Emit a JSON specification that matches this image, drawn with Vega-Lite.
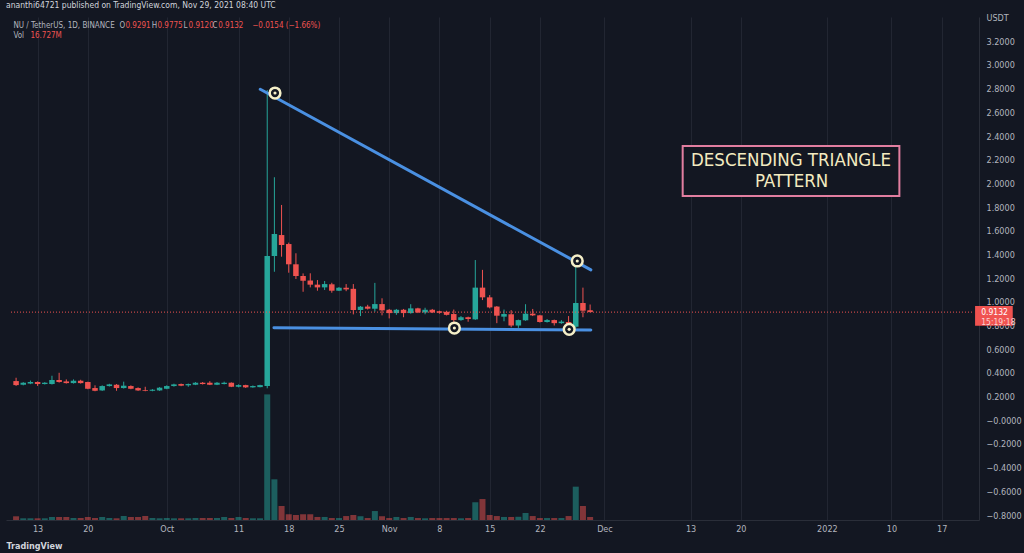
{
  "$schema": "https://vega.github.io/schema/vega-lite/v6.json",
  "width": 973,
  "height": 503,
  "autosize": "none",
  "padding": {"left": 6, "top": 17, "right": 45, "bottom": 33},
  "background": "#131722",
  "title": {
    "text": "ananthi64721 published on TradingView.com, Nov 29, 2021 08:40 UTC",
    "anchor": "start",
    "frame": "group",
    "fontSize": 8.5,
    "fontWeight": "normal",
    "color": "#d1d4dc",
    "offset": 4
  },
  "config": {
    "font": "Liberation Sans Narrow, Arial Narrow, DejaVu Sans Condensed, sans-serif",
    "view": {"stroke": null},
    "axisY": {
      "labelColor": "#b2b5be",
      "labelFontSize": 9,
      "labelPadding": 7,
      "labelFlush": false,
      "labelOverlap": false,
      "ticks": false,
      "domain": true,
      "domainColor": "#2a2e39",
      "grid": true,
      "gridColor": "#222632"
    }
  },
  "datasets": {
    "ohlc": [
      {"date":"2021-09-10","open":0.331,"high":0.359,"low":0.29,"close":0.297,"vol":20.6},
      {"date":"2021-09-11","open":0.300,"high":0.322,"low":0.295,"close":0.317,"vol":9.5},
      {"date":"2021-09-12","open":0.310,"high":0.335,"low":0.305,"close":0.323,"vol":9.5},
      {"date":"2021-09-13","open":0.323,"high":0.328,"low":0.290,"close":0.306,"vol":9.5},
      {"date":"2021-09-14","open":0.306,"high":0.322,"low":0.302,"close":0.317,"vol":9.5},
      {"date":"2021-09-15","open":0.306,"high":0.376,"low":0.302,"close":0.340,"vol":16.7},
      {"date":"2021-09-16","open":0.340,"high":0.401,"low":0.318,"close":0.323,"vol":16.7},
      {"date":"2021-09-17","open":0.328,"high":0.345,"low":0.310,"close":0.314,"vol":16.7},
      {"date":"2021-09-18","open":0.314,"high":0.345,"low":0.310,"close":0.334,"vol":11.2},
      {"date":"2021-09-19","open":0.334,"high":0.342,"low":0.310,"close":0.314,"vol":11.2},
      {"date":"2021-09-20","open":0.323,"high":0.326,"low":0.262,"close":0.266,"vol":16.7},
      {"date":"2021-09-21","open":0.272,"high":0.295,"low":0.245,"close":0.249,"vol":11.2},
      {"date":"2021-09-22","open":0.252,"high":0.295,"low":0.248,"close":0.289,"vol":16.7},
      {"date":"2021-09-23","open":0.289,"high":0.308,"low":0.285,"close":0.303,"vol":11.2},
      {"date":"2021-09-24","open":0.300,"high":0.306,"low":0.249,"close":0.272,"vol":9.5},
      {"date":"2021-09-25","open":0.272,"high":0.326,"low":0.268,"close":0.292,"vol":22.3},
      {"date":"2021-09-26","open":0.289,"high":0.295,"low":0.262,"close":0.266,"vol":16.7},
      {"date":"2021-09-27","open":0.272,"high":0.278,"low":0.248,"close":0.252,"vol":16.7},
      {"date":"2021-09-28","open":0.255,"high":0.283,"low":0.245,"close":0.249,"vol":22.3},
      {"date":"2021-09-29","open":0.249,"high":0.263,"low":0.245,"close":0.258,"vol":11.2},
      {"date":"2021-09-30","open":0.252,"high":0.280,"low":0.248,"close":0.275,"vol":9.5},
      {"date":"2021-10-01","open":0.266,"high":0.295,"low":0.262,"close":0.289,"vol":11.2},
      {"date":"2021-10-02","open":0.289,"high":0.309,"low":0.284,"close":0.303,"vol":9.5},
      {"date":"2021-10-03","open":0.306,"high":0.310,"low":0.288,"close":0.292,"vol":9.5},
      {"date":"2021-10-04","open":0.295,"high":0.310,"low":0.283,"close":0.306,"vol":9.5},
      {"date":"2021-10-05","open":0.300,"high":0.322,"low":0.297,"close":0.317,"vol":11.2},
      {"date":"2021-10-06","open":0.317,"high":0.323,"low":0.302,"close":0.306,"vol":11.2},
      {"date":"2021-10-07","open":0.317,"high":0.330,"low":0.297,"close":0.300,"vol":11.2},
      {"date":"2021-10-08","open":0.300,"high":0.323,"low":0.297,"close":0.317,"vol":11.2},
      {"date":"2021-10-09","open":0.306,"high":0.326,"low":0.303,"close":0.317,"vol":16.7},
      {"date":"2021-10-10","open":0.317,"high":0.320,"low":0.280,"close":0.283,"vol":11.2},
      {"date":"2021-10-11","open":0.283,"high":0.303,"low":0.278,"close":0.297,"vol":16.7},
      {"date":"2021-10-12","open":0.297,"high":0.300,"low":0.273,"close":0.278,"vol":11.2},
      {"date":"2021-10-13","open":0.278,"high":0.294,"low":0.275,"close":0.289,"vol":9.5},
      {"date":"2021-10-14","open":0.280,"high":0.300,"low":0.278,"close":0.297,"vol":9.5},
      {"date":"2021-10-15","open":0.289,"high":2.789,"low":0.270,"close":1.387,"vol":701},
      {"date":"2021-10-16","open":1.387,"high":2.052,"low":1.254,"close":1.573,"vol":227},
      {"date":"2021-10-17","open":1.564,"high":1.818,"low":1.381,"close":1.480,"vol":78},
      {"date":"2021-10-18","open":1.488,"high":1.500,"low":1.246,"close":1.317,"vol":32},
      {"date":"2021-10-19","open":1.317,"high":1.410,"low":1.193,"close":1.218,"vol":28},
      {"date":"2021-10-20","open":1.218,"high":1.240,"low":1.085,"close":1.178,"vol":32},
      {"date":"2021-10-21","open":1.180,"high":1.241,"low":1.122,"close":1.145,"vol":32},
      {"date":"2021-10-22","open":1.145,"high":1.184,"low":1.094,"close":1.122,"vol":17},
      {"date":"2021-10-23","open":1.122,"high":1.176,"low":1.100,"close":1.150,"vol":17},
      {"date":"2021-10-24","open":1.148,"high":1.161,"low":1.077,"close":1.094,"vol":11},
      {"date":"2021-10-25","open":1.094,"high":1.125,"low":1.091,"close":1.119,"vol":11},
      {"date":"2021-10-26","open":1.119,"high":1.150,"low":1.090,"close":1.105,"vol":22},
      {"date":"2021-10-27","open":1.110,"high":1.150,"low":0.894,"close":0.931,"vol":28},
      {"date":"2021-10-28","open":0.931,"high":0.965,"low":0.880,"close":0.959,"vol":21},
      {"date":"2021-10-29","open":0.960,"high":0.975,"low":0.935,"close":0.942,"vol":11},
      {"date":"2021-10-30","open":0.942,"high":1.160,"low":0.917,"close":0.981,"vol":50},
      {"date":"2021-10-31","open":0.981,"high":1.030,"low":0.886,"close":0.928,"vol":21},
      {"date":"2021-11-01","open":0.933,"high":0.940,"low":0.860,"close":0.905,"vol":11},
      {"date":"2021-11-02","open":0.905,"high":0.940,"low":0.890,"close":0.933,"vol":17},
      {"date":"2021-11-03","open":0.933,"high":0.940,"low":0.870,"close":0.905,"vol":11},
      {"date":"2021-11-04","open":0.905,"high":0.980,"low":0.900,"close":0.945,"vol":17},
      {"date":"2021-11-05","open":0.945,"high":0.950,"low":0.905,"close":0.910,"vol":11},
      {"date":"2021-11-06","open":0.910,"high":0.950,"low":0.895,"close":0.933,"vol":9.5},
      {"date":"2021-11-07","open":0.933,"high":0.940,"low":0.905,"close":0.910,"vol":11},
      {"date":"2021-11-08","open":0.920,"high":0.925,"low":0.900,"close":0.908,"vol":11},
      {"date":"2021-11-09","open":0.916,"high":0.925,"low":0.885,"close":0.890,"vol":11},
      {"date":"2021-11-10","open":0.897,"high":0.935,"low":0.790,"close":0.846,"vol":11},
      {"date":"2021-11-11","open":0.846,"high":0.880,"low":0.840,"close":0.870,"vol":9.5},
      {"date":"2021-11-12","open":0.870,"high":0.875,"low":0.832,"close":0.855,"vol":11},
      {"date":"2021-11-13","open":0.852,"high":1.353,"low":0.848,"close":1.120,"vol":99},
      {"date":"2021-11-14","open":1.120,"high":1.270,"low":1.015,"close":1.038,"vol":117},
      {"date":"2021-11-15","open":1.038,"high":1.057,"low":0.945,"close":0.953,"vol":28},
      {"date":"2021-11-16","open":0.960,"high":0.965,"low":0.820,"close":0.883,"vol":22},
      {"date":"2021-11-17","open":0.875,"high":0.935,"low":0.836,"close":0.897,"vol":17},
      {"date":"2021-11-18","open":0.895,"high":0.930,"low":0.785,"close":0.800,"vol":17},
      {"date":"2021-11-19","open":0.800,"high":0.850,"low":0.780,"close":0.846,"vol":18},
      {"date":"2021-11-20","open":0.844,"high":0.980,"low":0.840,"close":0.900,"vol":39},
      {"date":"2021-11-21","open":0.900,"high":0.940,"low":0.880,"close":0.886,"vol":22},
      {"date":"2021-11-22","open":0.886,"high":0.890,"low":0.825,"close":0.830,"vol":11},
      {"date":"2021-11-23","open":0.830,"high":0.855,"low":0.825,"close":0.846,"vol":11},
      {"date":"2021-11-24","open":0.846,"high":0.850,"low":0.800,"close":0.820,"vol":11},
      {"date":"2021-11-25","open":0.820,"high":0.845,"low":0.815,"close":0.833,"vol":11},
      {"date":"2021-11-26","open":0.830,"high":0.880,"low":0.760,"close":0.790,"vol":22},
      {"date":"2021-11-27","open":0.790,"high":1.350,"low":0.780,"close":0.990,"vol":186},
      {"date":"2021-11-28","open":0.990,"high":1.120,"low":0.870,"close":0.925,"vol":78},
      {"date":"2021-11-29","open":0.9291,"high":0.9775,"low":0.912,"close":0.9132,"vol":16.7}
    ],
    "trend": [
      {"line":"upper","date":"2021-10-14T00:45:00Z","price":2.795},
      {"line":"upper","date":"2021-11-29T02:30:00Z","price":1.27},
      {"line":"lower","date":"2021-10-15T22:30:00Z","price":0.781},
      {"line":"lower","date":"2021-11-29T02:30:00Z","price":0.762}
    ],
    "touches": [
      {"date":"2021-10-16T02:00:00Z","price":2.763},
      {"date":"2021-11-27T05:00:00Z","price":1.345},
      {"date":"2021-11-10T02:00:00Z","price":0.779},
      {"date":"2021-11-26T02:00:00Z","price":0.768}
    ],
    "header": [
      {"date":"2021-09-09T15:00:00Z","price":3.325,"label":"NU / TetherUS, 1D, BINANCE","kind":"grey"},
      {"date":"2021-09-24T10:00:00Z","price":3.325,"label":"O","kind":"grey"},
      {"date":"2021-09-25T06:00:00Z","price":3.325,"label":"0.9291","kind":"red"},
      {"date":"2021-09-28T22:00:00Z","price":3.325,"label":"H","kind":"grey"},
      {"date":"2021-09-29T17:00:00Z","price":3.325,"label":"0.9775","kind":"red"},
      {"date":"2021-10-03T08:00:00Z","price":3.325,"label":"L","kind":"grey"},
      {"date":"2021-10-04T01:00:00Z","price":3.325,"label":"0.9120","kind":"red"},
      {"date":"2021-10-07T09:00:00Z","price":3.325,"label":"C","kind":"grey"},
      {"date":"2021-10-08T04:00:00Z","price":3.325,"label":"0.9132","kind":"red"},
      {"date":"2021-10-12T22:00:00Z","price":3.325,"label":"−0.0154 (−1.66%)","kind":"red"},
      {"date":"2021-09-09T15:00:00Z","price":3.242,"label":"Vol","kind":"grey"},
      {"date":"2021-09-12T00:00:00Z","price":3.242,"label":"16.727M","kind":"red"}
    ]
  },
  "encoding": {
    "x": {
      "field": "date",
      "type": "temporal",
      "scale": {
        "type": "utc",
        "domain": [
          {"year": 2021, "month": 9, "date": 9, "hours": 7, "utc": true},
          {"year": 2022, "month": 1, "date": 21, "hours": 12, "utc": true}
        ]
      },
      "axis": {
        "values": [
          {"year": 2021, "month": 9, "date": 13, "utc": true},
          {"year": 2021, "month": 9, "date": 20, "utc": true},
          {"year": 2021, "month": 10, "date": 1, "utc": true},
          {"year": 2021, "month": 10, "date": 11, "utc": true},
          {"year": 2021, "month": 10, "date": 18, "utc": true},
          {"year": 2021, "month": 10, "date": 25, "utc": true},
          {"year": 2021, "month": 11, "date": 1, "utc": true},
          {"year": 2021, "month": 11, "date": 8, "utc": true},
          {"year": 2021, "month": 11, "date": 15, "utc": true},
          {"year": 2021, "month": 11, "date": 22, "utc": true},
          {"year": 2021, "month": 12, "date": 1, "utc": true},
          {"year": 2021, "month": 12, "date": 13, "utc": true},
          {"year": 2021, "month": 12, "date": 20, "utc": true},
          {"year": 2022, "month": 1, "date": 1, "utc": true},
          {"year": 2022, "month": 1, "date": 10, "utc": true},
          {"year": 2022, "month": 1, "date": 17, "utc": true}
        ],
        "labelExpr": "utcdate(datum.value) == 1 ? (utcmonth(datum.value) == 0 ? utcFormat(datum.value, '%Y') : utcFormat(datum.value, '%b')) : utcFormat(datum.value, '%-d')",
        "labelColor": "#b2b5be",
        "labelFontSize": 9,
        "labelPadding": 4,
        "labelFlush": false,
        "labelOverlap": false,
        "ticks": false,
        "domain": true,
        "domainColor": "#2a2e39",
        "grid": true,
        "gridColor": "#222632",
        "title": "TradingView",
        "titleColor": "#d1d4dc",
        "titleFontSize": 9,
        "titleFontWeight": "bold",
        "titleAnchor": "start",
        "titleAlign": "left",
        "titlePadding": 8
      }
    }
  },
  "layer": [
    {
      "data": {"name": "ohlc"},
      "mark": {"type": "bar", "width": 6, "opacity": 0.5},
      "encoding": {
        "y": {"field": "vol", "type": "quantitative", "scale": {"domain": [0, 2807], "nice": false, "zero": true}, "axis": null},
        "color": {"condition": {"test": "datum.close >= datum.open", "value": "#26a69a"}, "value": "#ef5350"}
      }
    },
    {
      "layer": [
        {
          "data": {"name": "ohlc"},
          "mark": {"type": "rule", "strokeWidth": 1},
          "encoding": {
            "y": {"field": "low", "type": "quantitative", "title": null, "scale": {"domain": [-0.842, 3.405], "nice": false, "zero": false},
              "axis": {"orient": "right", "values": [-0.8, -0.6, -0.4, -0.2, 0, 0.2, 0.4, 0.6, 0.8, 1.0, 1.2, 1.4, 1.6, 1.8, 2.0, 2.2, 2.4, 2.6, 2.8, 3.0, 3.2, 3.4], "labelExpr": "abs(datum.value) < 0.000001 ? '−0.0000' : (datum.value > 3.3 ? 'USDT' : format(datum.value, '.4f'))"}},
            "y2": {"field": "high"},
            "color": {"condition": {"test": "datum.close >= datum.open", "value": "#26a69a"}, "value": "#ef5350"}
          }
        },
        {
          "data": {"name": "ohlc"},
          "mark": {"type": "bar", "width": 5.5},
          "encoding": {
            "y": {"field": "open", "type": "quantitative", "title": null, "scale": {"domain": [-0.842, 3.405], "nice": false, "zero": false},
              "axis": {"orient": "right", "values": [-0.8, -0.6, -0.4, -0.2, 0, 0.2, 0.4, 0.6, 0.8, 1.0, 1.2, 1.4, 1.6, 1.8, 2.0, 2.2, 2.4, 2.6, 2.8, 3.0, 3.2, 3.4], "labelExpr": "abs(datum.value) < 0.000001 ? '−0.0000' : (datum.value > 3.3 ? 'USDT' : format(datum.value, '.4f'))"}},
            "y2": {"field": "close"},
            "color": {"condition": {"test": "datum.close >= datum.open", "value": "#26a69a"}, "value": "#ef5350"}
          }
        },
        {
          "data": {"values": [{"date": "2021-09-09T07:00:00Z", "date2": "2022-01-21T12:00:00Z", "price": 0.9132}]},
          "mark": {"type": "rule", "color": "#ef5350", "strokeWidth": 1, "strokeDash": [1, 2]},
          "encoding": {
            "x2": {"field": "date2"},
            "y": {"field": "price", "type": "quantitative", "title": null, "scale": {"domain": [-0.842, 3.405], "nice": false, "zero": false},
              "axis": {"orient": "right", "values": [-0.8, -0.6, -0.4, -0.2, 0, 0.2, 0.4, 0.6, 0.8, 1.0, 1.2, 1.4, 1.6, 1.8, 2.0, 2.2, 2.4, 2.6, 2.8, 3.0, 3.2, 3.4], "labelExpr": "abs(datum.value) < 0.000001 ? '−0.0000' : (datum.value > 3.3 ? 'USDT' : format(datum.value, '.4f'))"}}
          }
        },
        {
          "data": {"name": "trend"},
          "mark": {"type": "line", "color": "#4a90e2", "strokeWidth": 3, "strokeCap": "round"},
          "encoding": {
            "y": {"field": "price", "type": "quantitative", "title": null, "scale": {"domain": [-0.842, 3.405], "nice": false, "zero": false},
              "axis": {"orient": "right", "values": [-0.8, -0.6, -0.4, -0.2, 0, 0.2, 0.4, 0.6, 0.8, 1.0, 1.2, 1.4, 1.6, 1.8, 2.0, 2.2, 2.4, 2.6, 2.8, 3.0, 3.2, 3.4], "labelExpr": "abs(datum.value) < 0.000001 ? '−0.0000' : (datum.value > 3.3 ? 'USDT' : format(datum.value, '.4f'))"}},
            "detail": {"field": "line"}
          }
        },
        {
          "data": {"name": "touches"},
          "mark": {"type": "point", "shape": "circle", "filled": false, "fill": "#131722", "fillOpacity": 1, "stroke": "#f5efc8", "strokeWidth": 2.5, "size": 115, "opacity": 1},
          "encoding": {
            "y": {"field": "price", "type": "quantitative", "title": null, "scale": {"domain": [-0.842, 3.405], "nice": false, "zero": false},
              "axis": {"orient": "right", "values": [-0.8, -0.6, -0.4, -0.2, 0, 0.2, 0.4, 0.6, 0.8, 1.0, 1.2, 1.4, 1.6, 1.8, 2.0, 2.2, 2.4, 2.6, 2.8, 3.0, 3.2, 3.4], "labelExpr": "abs(datum.value) < 0.000001 ? '−0.0000' : (datum.value > 3.3 ? 'USDT' : format(datum.value, '.4f'))"}}
          }
        },
        {
          "data": {"name": "touches"},
          "mark": {"type": "point", "shape": "circle", "filled": true, "color": "#f5efc8", "size": 10, "opacity": 1},
          "encoding": {
            "y": {"field": "price", "type": "quantitative", "title": null, "scale": {"domain": [-0.842, 3.405], "nice": false, "zero": false},
              "axis": {"orient": "right", "values": [-0.8, -0.6, -0.4, -0.2, 0, 0.2, 0.4, 0.6, 0.8, 1.0, 1.2, 1.4, 1.6, 1.8, 2.0, 2.2, 2.4, 2.6, 2.8, 3.0, 3.2, 3.4], "labelExpr": "abs(datum.value) < 0.000001 ? '−0.0000' : (datum.value > 3.3 ? 'USDT' : format(datum.value, '.4f'))"}}
          }
        },
        {
          "data": {"values": [{"date": "2021-12-11T21:36:00Z", "date2": "2022-01-11T02:24:00Z", "price": 2.316, "price2": 1.894}]},
          "mark": {"type": "rect", "fill": "#131722", "stroke": "#e27ea0", "strokeWidth": 2},
          "encoding": {
            "x2": {"field": "date2"},
            "y": {"field": "price", "type": "quantitative", "title": null, "scale": {"domain": [-0.842, 3.405], "nice": false, "zero": false},
              "axis": {"orient": "right", "values": [-0.8, -0.6, -0.4, -0.2, 0, 0.2, 0.4, 0.6, 0.8, 1.0, 1.2, 1.4, 1.6, 1.8, 2.0, 2.2, 2.4, 2.6, 2.8, 3.0, 3.2, 3.4], "labelExpr": "abs(datum.value) < 0.000001 ? '−0.0000' : (datum.value > 3.3 ? 'USDT' : format(datum.value, '.4f'))"}},
            "y2": {"field": "price2"}
          }
        },
        {
          "data": {"values": [
            {"date": "2021-12-27T00:00:00Z", "price": 2.195, "label": "DESCENDING TRIANGLE"},
            {"date": "2021-12-27T02:00:00Z", "price": 2.022, "label": "PATTERN"}
          ]},
          "mark": {"type": "text", "align": "center", "baseline": "middle", "fontSize": 18.5, "color": "#f3ebc0"},
          "encoding": {
            "y": {"field": "price", "type": "quantitative", "title": null, "scale": {"domain": [-0.842, 3.405], "nice": false, "zero": false},
              "axis": {"orient": "right", "values": [-0.8, -0.6, -0.4, -0.2, 0, 0.2, 0.4, 0.6, 0.8, 1.0, 1.2, 1.4, 1.6, 1.8, 2.0, 2.2, 2.4, 2.6, 2.8, 3.0, 3.2, 3.4], "labelExpr": "abs(datum.value) < 0.000001 ? '−0.0000' : (datum.value > 3.3 ? 'USDT' : format(datum.value, '.4f'))"}},
            "text": {"field": "label"}
          }
        },
        {
          "data": {"name": "header"},
          "mark": {"type": "text", "align": "left", "baseline": "middle", "fontSize": 8},
          "encoding": {
            "y": {"field": "price", "type": "quantitative", "title": null, "scale": {"domain": [-0.842, 3.405], "nice": false, "zero": false},
              "axis": {"orient": "right", "values": [-0.8, -0.6, -0.4, -0.2, 0, 0.2, 0.4, 0.6, 0.8, 1.0, 1.2, 1.4, 1.6, 1.8, 2.0, 2.2, 2.4, 2.6, 2.8, 3.0, 3.2, 3.4], "labelExpr": "abs(datum.value) < 0.000001 ? '−0.0000' : (datum.value > 3.3 ? 'USDT' : format(datum.value, '.4f'))"}},
            "text": {"field": "label"},
            "color": {"condition": {"test": "datum.kind == 'red'", "value": "#ef5350"}, "value": "#b2b5be"}
          }
        },
        {
          "data": {"values": [{"date": "2022-01-21T15:36:00Z", "date2": "2022-01-26T21:36:00Z", "price": 0.965, "price2": 0.798}]},
          "mark": {"type": "rect", "fill": "#f05350", "clip": false},
          "encoding": {
            "x2": {"field": "date2"},
            "y": {"field": "price", "type": "quantitative", "title": null, "scale": {"domain": [-0.842, 3.405], "nice": false, "zero": false},
              "axis": {"orient": "right", "values": [-0.8, -0.6, -0.4, -0.2, 0, 0.2, 0.4, 0.6, 0.8, 1.0, 1.2, 1.4, 1.6, 1.8, 2.0, 2.2, 2.4, 2.6, 2.8, 3.0, 3.2, 3.4], "labelExpr": "abs(datum.value) < 0.000001 ? '−0.0000' : (datum.value > 3.3 ? 'USDT' : format(datum.value, '.4f'))"}},
            "y2": {"field": "price2"}
          }
        },
        {
          "data": {"values": [
            {"date": "2022-01-22T12:00:00Z", "price": 0.911, "label": "0.9132", "kind": "a"},
            {"date": "2022-01-22T12:00:00Z", "price": 0.831, "label": "15:19:18", "kind": "b"}
          ]},
          "mark": {"type": "text", "align": "left", "baseline": "middle", "fontSize": 8.5, "clip": false},
          "encoding": {
            "y": {"field": "price", "type": "quantitative", "title": null, "scale": {"domain": [-0.842, 3.405], "nice": false, "zero": false},
              "axis": {"orient": "right", "values": [-0.8, -0.6, -0.4, -0.2, 0, 0.2, 0.4, 0.6, 0.8, 1.0, 1.2, 1.4, 1.6, 1.8, 2.0, 2.2, 2.4, 2.6, 2.8, 3.0, 3.2, 3.4], "labelExpr": "abs(datum.value) < 0.000001 ? '−0.0000' : (datum.value > 3.3 ? 'USDT' : format(datum.value, '.4f'))"}},
            "text": {"field": "label"},
            "color": {"condition": {"test": "datum.kind == 'a'", "value": "#ffffff"}, "value": "#fbd3d3"}
          }
        }
      ]
    }
  ],
  "resolve": {"scale": {"y": "independent"}}
}
